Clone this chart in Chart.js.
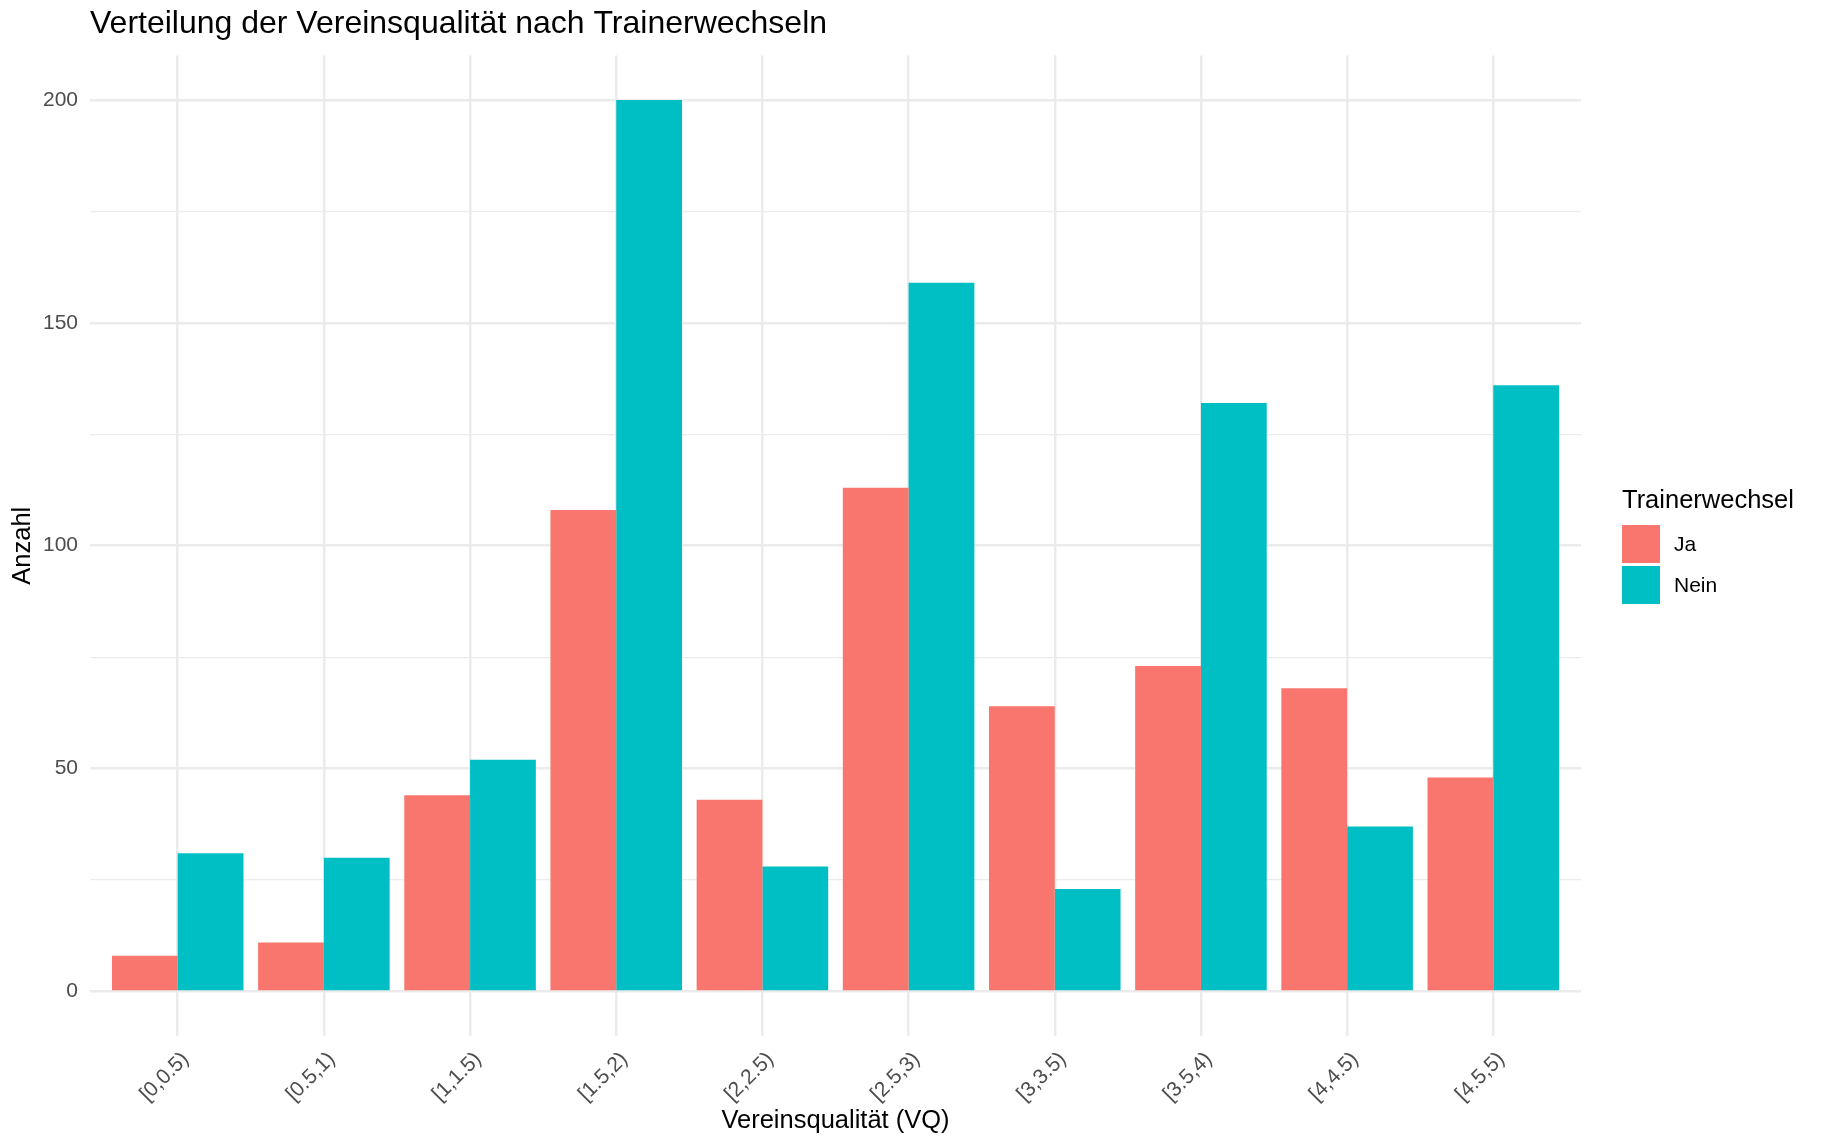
<!DOCTYPE html>
<html>
<head>
<meta charset="utf-8">
<script src="https://cdn.jsdelivr.net/npm/chart.js@4"></script>
<style>
  body { margin: 0; background: #fff; font-family: 'Liberation Sans', Arial, sans-serif; }
  #wrap { position: relative; width: 1825px; height: 1148px; }
  #legend { position: absolute; left: 1622px; top: 484px; }
  #legend .ttl { font-size: 25.5px; line-height: 30px; color: #000; margin-bottom: 11px; }
  #legend .item { display: flex; align-items: center; height: 38px; margin-bottom: 3px; }
  #legend .key { width: 38px; height: 38px; margin-right: 14px; }
  #legend .lbl { font-size: 21px; color: #000; }
</style>
</head>
<body>
<div id="wrap">
  <canvas id="vqChart"></canvas>
  <div id="legend"></div>
</div>
<script>
var categories = ['[0,0.5)', '[0.5,1)', '[1,1.5)', '[1.5,2)', '[2,2.5)', '[2.5,3)', '[3,3.5)', '[3.5,4)', '[4,4.5)', '[4.5,5)'];
var ja = [8, 11, 44, 108, 43, 113, 64, 73, 68, 48];
var nein = [31, 30, 52, 200, 28, 159, 23, 132, 37, 136];
var yMajor = [0, 50, 100, 150, 200];
var yMinor = [25, 75, 125, 175];
var seriesNames = ['Ja', 'Nein'];
var seriesColors = ['#F8766D', '#00BFC4'];

var font = "'Liberation Sans', Arial, sans-serif";
Chart.defaults.font.family = font;

function toPoints(values) {
  return values.map(function (v, i) { return { x: i, y: v }; });
}

// legend (ggplot style, right side)
var legend = document.getElementById('legend');
var html = '<div class="ttl">Trainerwechsel</div>';
seriesNames.forEach(function (name, i) {
  html += '<div class="item"><div class="key" style="background:' + seriesColors[i] + '"></div><span class="lbl">' + name + '</span></div>';
});
legend.innerHTML = html;

var ctx = document.getElementById('vqChart').getContext('2d');
var chart = new Chart(ctx, {
  type: 'bar',
  data: {
    datasets: [
      { label: seriesNames[0], data: toPoints(ja), backgroundColor: seriesColors[0] },
      { label: seriesNames[1], data: toPoints(nein), backgroundColor: seriesColors[1] }
    ]
  },
  options: {
    responsive: true,
    maintainAspectRatio: false,
    animation: false,
    devicePixelRatio: 1,
    layout: { padding: { top: 0, right: 244, bottom: 0, left: 0 } },
    datasets: { bar: { categoryPercentage: 0.9, barPercentage: 1.0 } },
    plugins: {
      legend: { display: false },
      tooltip: { enabled: false },
      title: {
        display: true,
        text: 'Verteilung der Vereinsqualität nach Trainerwechseln',
        align: 'start',
        fullSize: false,
        color: '#000',
        font: { size: 32, weight: 'normal' },
        padding: { top: 5, bottom: 12 }
      }
    },
    scales: {
      x: {
        type: 'linear',
        min: -0.6,
        max: 9.6,
        offset: false,
        afterBuildTicks: function (scale) {
          scale.ticks = categories.map(function (c, i) { return { value: i }; });
        },
        afterFit: function (scale) { scale.height = 112; },
        ticks: {
          callback: function (v) { return categories[v]; },
          autoSkip: false,
          minRotation: 45,
          maxRotation: 45,
          padding: 11,
          labelOffset: 8,
          color: '#4D4D4D',
          font: { size: 21 }
        },
        grid: { color: '#EBEBEB', lineWidth: 2.5, drawTicks: false, offset: false },
        border: { display: false },
        title: {
          display: true,
          text: 'Vereinsqualität (VQ)',
          color: '#000',
          font: { size: 25.5 },
          padding: { top: 0, bottom: 11.5 }
        }
      },
      y: {
        min: -10,
        max: 210,
        afterBuildTicks: function (scale) {
          scale.ticks = yMajor.concat(yMinor).sort(function (a, b) { return a - b; })
            .map(function (v) { return { value: v }; });
        },
        afterFit: function (scale) { scale.width = 90; },
        ticks: {
          callback: function (v) { return yMajor.indexOf(v) >= 0 ? v : ''; },
          autoSkip: false,
          padding: 12,
          color: '#4D4D4D',
          font: { size: 21 }
        },
        grid: {
          color: '#EBEBEB',
          lineWidth: function (c) { return yMajor.indexOf(c.tick.value) >= 0 ? 2.5 : 1.2; },
          drawTicks: false
        },
        border: { display: false },
        title: {
          display: true,
          text: 'Anzahl',
          color: '#000',
          font: { size: 25.5 },
          padding: { top: 8, bottom: 0 }
        }
      }
    }
  }
});
</script>
</body>
</html>
